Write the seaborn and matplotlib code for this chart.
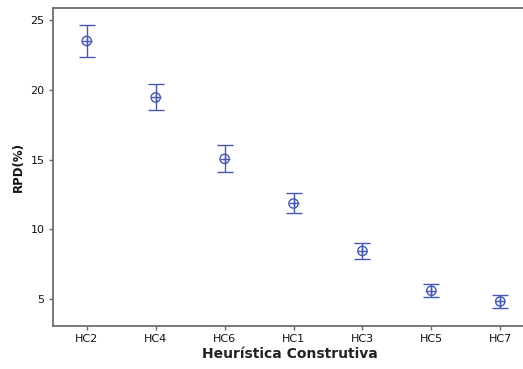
import matplotlib
matplotlib.use("Agg")
import matplotlib.pyplot as plt
import seaborn as sns
import numpy as np

# Data
heuristicas = ["HC2", "HC4", "HC6", "HC1", "HC3", "HC5", "HC7"]
rpd_media = [23.5, 19.45, 15.05, 11.85, 8.45, 5.6, 4.83]
ic_inferior = [22.35, 18.57, 14.1, 11.2, 7.9, 5.12, 4.35]
ic_superior = [24.66, 20.43, 16.05, 12.6, 9.03, 6.07, 5.3]

sns.set_style("white")
plt.rcParams["font.family"] = ["DejaVu Sans"]

cor = "#4658b4"
x = np.arange(len(heuristicas))
media = np.array(rpd_media)
err = [media - np.array(ic_inferior), np.array(ic_superior) - media]

fig = plt.figure(figsize=(5.23, 3.69), dpi=100)
ax = fig.add_axes([0.1013, 0.1165, 0.905, 0.8618])

ax.errorbar(x, media, yerr=err, fmt="none", ecolor=cor, elinewidth=1.0,
            capsize=5.5, capthick=1.0)
sns.scatterplot(x=x, y=media, ax=ax, marker="o", s=45, facecolor="none",
                edgecolor=cor, linewidth=1.0, zorder=3)
sns.scatterplot(x=x, y=media, ax=ax, marker="+", s=45, color=cor,
                linewidth=1.0, zorder=3)

# keep the same data scale despite the wider axes box
ax.set_xlim(-0.49, -0.49 + 6.82 * 0.905 / 0.8987)
ax.set_ylim(3.07, 25.86)
ax.set_xticks(x)
ax.set_xticklabels(heuristicas)
ax.set_yticks([5, 10, 15, 20, 25])

ax.set_xlabel("Heurística Construtiva", fontsize=10, fontweight="bold",
              labelpad=2, color="#222222")
ax.set_ylabel("RPD(%)", fontsize=8.5, fontweight="bold", labelpad=4,
              color="#111111")
ax.tick_params(axis="both", labelsize=8, length=3, width=1, color="#666666",
               labelcolor="#111111", direction="out", pad=3,
               bottom=True, left=True)

for s in ["left", "top", "bottom"]:
    ax.spines[s].set_color("#6e6e6e")
    ax.spines[s].set_linewidth(1.3)
ax.spines["right"].set_visible(False)

fig.savefig("out.png", dpi=100)
